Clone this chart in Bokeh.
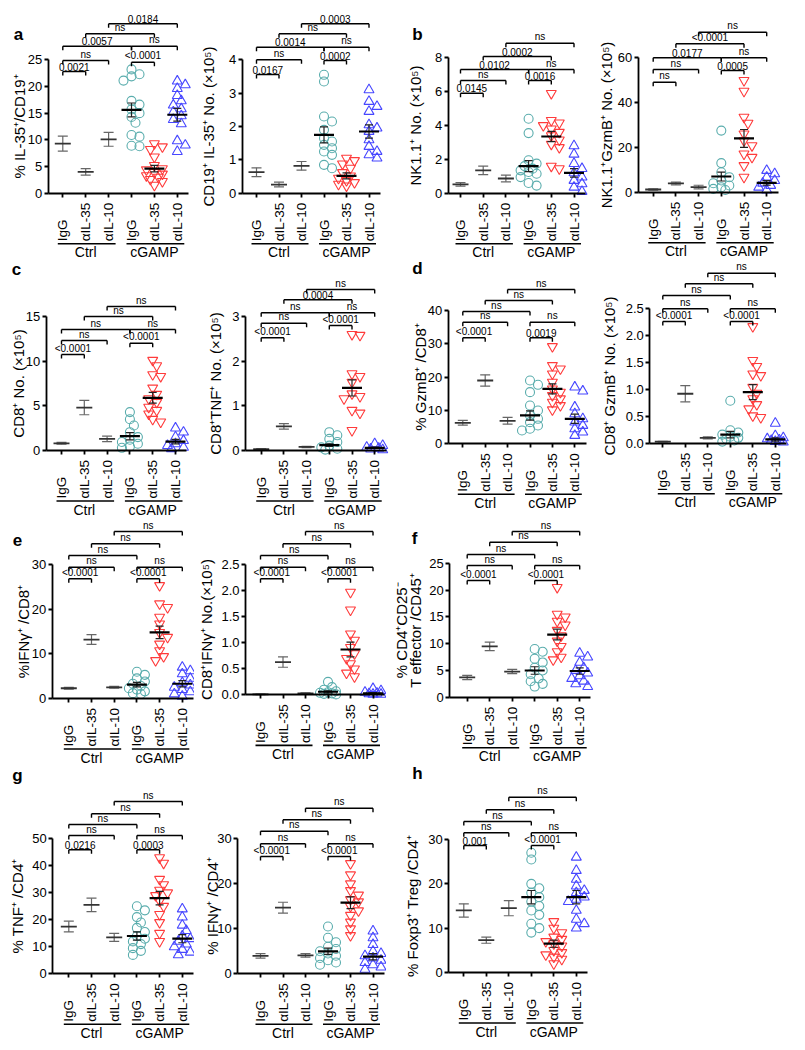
import math
from bokeh.plotting import figure
from bokeh.models import LinearAxis, FixedTicker, CustomJSTickFormatter
from bokeh.layouts import row, column
from bokeh.embed import file_html
from bokeh.resources import INLINE
from bokeh.core.properties import value

FONT = "Liberation Sans"
CATEGORIES = ["IgG", "αIL-35", "αIL-10", "IgG", "αIL-35", "αIL-10"]
GROUP_LABELS = ["Ctrl", "cGAMP"]
COMPARISONS = [(1, 2), (1, 3), (4, 5), (4, 6), (1, 4), (2, 5), (3, 6)]

# ---------------- data ----------------
a1_title = "% IL-35⁺/CD19⁺"
a1_ticks = [0, 5, 10, 15, 20, 25]
a1_labels = ["0", "5", "10", "15", "20", "25"]
a1_mean = [9.3, 4.0, 10.1, 15.6, 4.6, 14.7]
a1_sem = [1.4, 0.6, 1.3, 1.3, 0.6, 1.2]
a1_igg = [23.2, 22.3, 21.9, 21.1, 17.3, 16.6, 15.7, 15.0, 14.3, 13.2, 10.9, 10.6, 8.9, 8.8]
a1_il35 = [9.3, 8.7, 8.2, 6.8, 5.2, 4.6, 4.4, 3.9, 3.6, 3.3, 3.0, 2.6, 2.2, 1.5]
a1_il10 = [21.0, 20.3, 19.6, 18.3, 17.3, 16.5, 15.8, 15.2, 14.5, 13.8, 13.0, 9.8, 9.0, 7.8]
a1_p = ["0.0021", "ns", "<0.0001", "ns", "0.0057", "ns", "0.0184"]

a2_title = "CD19⁺ IL-35⁺ No. (×10⁵)"
a2_ticks = [0, 1, 2, 3, 4]
a2_labels = ["0", "1", "2", "3", "4"]
a2_mean = [0.63, 0.26, 0.82, 1.75, 0.52, 1.85]
a2_sem = [0.13, 0.07, 0.13, 0.24, 0.09, 0.2]
a2_igg = [3.55, 3.35, 2.3, 2.15, 1.9, 1.65, 1.55, 1.45, 1.35, 1.25, 1.15, 0.85, 0.75]
a2_il35 = [1.05, 0.98, 0.88, 0.75, 0.62, 0.52, 0.45, 0.38, 0.32, 0.27, 0.22]
a2_il10 = [3.1, 2.75, 2.6, 2.45, 2.05, 1.95, 1.85, 1.6, 1.4, 1.25, 1.15, 1.05]
a2_p = ["0.0167", "ns", "0.0002", "ns", "0.0014", "ns", "0.0003"]

b1_title = "NK1.1⁺ No. (×10⁵)"
b1_ticks = [0, 2, 4, 6, 8]
b1_labels = ["0", "2", "4", "6", "8"]
b1_mean = [0.52, 1.35, 0.87, 1.6, 3.35, 1.2]
b1_sem = [0.1, 0.25, 0.2, 0.33, 0.3, 0.25]
b1_igg = [4.4, 3.55, 1.95, 1.75, 1.6, 1.45, 1.35, 1.25, 1.15, 0.95, 0.6, 0.45]
b1_il35 = [5.9, 4.3, 4.15, 4.0, 3.8, 3.6, 3.4, 3.15, 2.9, 2.7, 1.6, 1.45]
b1_il10 = [2.8, 2.3, 1.75, 1.45, 1.2, 0.95, 0.75, 0.55, 0.35, 0.1]
b1_p = ["0.0145", "ns", "0.0016", "ns", "0.0102", "0.0002", "ns"]

b2_title = "NK1.1⁺GzmB⁺ No. (×10⁵)"
b2_ticks = [0, 20, 40, 60]
b2_labels = ["0", "20", "40", "60"]
b2_mean = [1.2, 3.9, 2.3, 7.0, 24.0, 4.2]
b2_sem = [0.3, 0.6, 0.8, 2.0, 4.0, 1.0]
b2_igg = [27.5, 13.0, 8.9, 6.7, 5.2, 4.0, 3.0, 2.2, 1.5, 1.0]
b2_il35 = [49.9, 45.1, 33.5, 30.8, 26.0, 23.0, 20.8, 17.1, 15.6, 11.9, 6.7]
b2_il10 = [9.7, 8.2, 6.7, 5.2, 4.0, 3.0, 2.2, 1.0]
b2_p = ["ns", "ns", "0.0005", "ns", "0.0177", "<0.0001", "ns"]

c1_title = "CD8⁺ No. (×10⁵)"
c1_ticks = [0, 5, 10, 15]
c1_labels = ["0", "5", "10", "15"]
c1_mean = [0.8, 4.8, 1.3, 1.6, 5.9, 1.0]
c1_sem = [0.1, 0.8, 0.3, 0.4, 0.6, 0.25]
c1_igg = [4.3, 3.5, 2.8, 2.05, 1.5, 1.2, 0.95, 0.75, 0.45, 0.3]
c1_il35 = [10.1, 9.5, 8.5, 8.3, 7.0, 6.3, 5.8, 5.4, 4.85, 4.5, 4.1, 3.5, 3.2]
c1_il10 = [2.5, 2.05, 1.5, 1.1, 0.75, 0.55, 0.35, 0.2]
c1_p = ["<0.0001", "ns", "<0.0001", "ns", "ns", "ns", "ns"]

c2_title = "CD8⁺TNF⁺ No. (×10⁵)"
c2_ticks = [0, 1, 2, 3]
c2_labels = ["0", "1", "2", "3"]
c2_mean = [0.03, 0.54, 0.08, 0.12, 1.4, 0.06]
c2_sem = [0.01, 0.06, 0.015, 0.03, 0.18, 0.015]
c2_igg = [0.41, 0.34, 0.26, 0.19, 0.11, 0.07, 0.04, 0.02]
c2_il35 = [2.6, 2.58, 1.72, 1.66, 1.53, 1.27, 1.21, 1.16, 0.9, 0.84, 0.45]
c2_il10 = [0.15, 0.11, 0.07, 0.05, 0.03, 0.015]
c2_p = ["<0.0001", "ns", "<0.0001", "ns", "ns", "0.0004", "ns"]

d1_title = "% GzmB⁺ /CD8⁺"
d1_ticks = [0, 10, 20, 30, 40]
d1_labels = ["0", "10", "20", "30", "40"]
d1_mean = [6.3, 19.0, 6.9, 8.5, 16.5, 7.5]
d1_sem = [0.7, 1.7, 1.0, 1.4, 1.5, 1.4]
d1_igg = [19.0, 17.7, 15.5, 11.5, 10.0, 8.5, 7.5, 6.5, 5.5, 4.5, 4.0]
d1_il35 = [29.2, 23.5, 22.5, 21.0, 18.5, 16.5, 15.5, 14.5, 13.5, 12.5, 11.5, 10.2]
d1_il10 = [17.0, 15.8, 11.0, 9.0, 7.5, 6.5, 5.5, 4.5, 3.5, 2.5]
d1_p = ["<0.0001", "ns", "0.0019", "ns", "ns", "ns", "ns"]

d2_title = "CD8⁺ GzmB⁺ No. (×10⁵)"
d2_ticks = [0, 0.5, 1.0, 1.5, 2.0, 2.5]
d2_labels = ["0.0", "0.5", "1.0", "1.5", "2.0", "2.5"]
d2_mean = [0.03, 0.92, 0.1, 0.16, 0.95, 0.07]
d2_sem = [0.005, 0.15, 0.02, 0.06, 0.14, 0.03]
d2_igg = [0.79, 0.24, 0.2, 0.16, 0.12, 0.1, 0.08, 0.05, 0.03]
d2_il35 = [2.17, 1.54, 1.43, 1.29, 1.26, 1.04, 0.93, 0.83, 0.72, 0.64, 0.51, 0.48]
d2_il10 = [0.37, 0.14, 0.1, 0.08, 0.06, 0.05, 0.03, 0.02]
d2_p = ["<0.0001", "ns", "<0.0001", "ns", "ns", "ns", "ns"]

e1_title = "%IFNγ⁺ /CD8⁺"
e1_ticks = [0, 10, 20, 30]
e1_labels = ["0", "10", "20", "30"]
e1_mean = [2.3, 13.2, 2.5, 3.1, 14.8, 3.3]
e1_sem = [0.2, 1.1, 0.2, 0.5, 1.4, 0.7]
e1_igg = [6.0, 5.3, 4.5, 3.8, 3.3, 2.8, 2.3, 2.0, 1.6, 1.2, 1.0]
e1_il35 = [25.3, 21.2, 20.4, 18.2, 16.7, 14.8, 13.7, 12.2, 10.7, 9.4, 8.5]
e1_il10 = [7.0, 6.2, 5.5, 4.5, 3.5, 3.0, 2.5, 2.0, 1.5, 1.0, 0.5]
e1_p = ["<0.0001", "ns", "<0.0001", "ns", "ns", "ns", "ns"]

e2_title = "CD8⁺IFNγ⁺ No.(×10⁵)"
e2_ticks = [0, 0.5, 1.0, 1.5, 2.0, 2.5]
e2_labels = ["0.0", "0.5", "1.0", "1.5", "2.0", "2.5"]
e2_mean = [0.01, 0.63, 0.03, 0.06, 0.87, 0.03]
e2_sem = [0.005, 0.1, 0.01, 0.02, 0.14, 0.01]
e2_igg = [0.25, 0.15, 0.1, 0.07, 0.05, 0.04, 0.03, 0.02, 0.01]
e2_il35 = [1.97, 1.63, 1.17, 1.05, 0.91, 0.79, 0.7, 0.6, 0.5, 0.42, 0.35]
e2_il10 = [0.12, 0.08, 0.05, 0.03, 0.02, 0.01, 0.01]
e2_p = ["<0.0001", "ns", "<0.0001", "ns", "ns", "ns", "ns"]

f1_title = "% CD4⁺CD25⁻\nT effector /CD45⁺"
f1_ticks = [0, 5, 10, 15, 20, 25]
f1_labels = ["0", "5", "10", "15", "20", "25"]
f1_mean = [3.7, 9.5, 4.8, 5.0, 11.7, 4.9]
f1_sem = [0.4, 0.8, 0.4, 0.7, 1.0, 0.6]
f1_igg = [9.0, 8.5, 7.2, 6.5, 5.5, 5.0, 4.3, 3.5, 3.0, 2.5, 2.0]
f1_il35 = [20.5, 15.5, 15.0, 14.2, 13.5, 12.5, 11.5, 10.5, 9.5, 8.5, 7.5, 7.0]
f1_il10 = [8.2, 7.5, 6.5, 5.5, 5.0, 4.5, 4.0, 3.5, 3.0, 2.5, 2.0]
f1_p = ["<0.0001", "ns", "<0.0001", "ns", "ns", "ns", "ns"]

g1_title = "% TNF⁺ /CD4⁺"
g1_ticks = [0, 10, 20, 30, 40, 50]
g1_labels = ["0", "10", "20", "30", "40", "50"]
g1_mean = [17.5, 25.5, 13.5, 14.0, 28.0, 13.0]
g1_sem = [2.0, 2.5, 1.5, 1.5, 2.5, 1.5]
g1_igg = [25.0, 23.5, 21.0, 19.0, 17.0, 15.5, 14.0, 13.0, 12.0, 11.0, 9.5, 8.5, 7.0]
g1_il35 = [43, 41, 35, 33, 31, 30, 29, 27, 25, 22, 19, 15, 12]
g1_il10 = [24, 21, 18, 16, 14, 13, 12, 11, 10, 9, 8, 7]
g1_p = ["0.0216", "ns", "0.0003", "ns", "ns", "ns", "ns"]

g2_title = "% IFNγ⁺ /CD4⁺"
g2_ticks = [0, 10, 20, 30]
g2_labels = ["0", "10", "20", "30"]
g2_mean = [4.0, 14.7, 4.1, 5.0, 15.8, 3.8]
g2_sem = [0.5, 1.2, 0.4, 0.7, 1.3, 0.7]
g2_igg = [10.5, 8.0, 7.0, 6.0, 5.5, 5.0, 4.5, 4.0, 3.5, 3.0, 2.5, 2.0]
g2_il35 = [24.5, 22, 20, 18.5, 17.5, 16.5, 16, 15, 14, 13, 11.5, 10, 8.5]
g2_il10 = [9.5, 8, 6.5, 5, 4.5, 4, 3.5, 3, 2.5, 2, 1.5, 1]
g2_p = ["<0.0001", "ns", "<0.0001", "ns", "ns", "ns", "ns"]

h1_title = "% Foxp3⁺ Treg /CD4⁺"
h1_ticks = [0, 10, 20, 30]
h1_labels = ["0", "10", "20", "30"]
h1_mean = [14.0, 7.3, 14.5, 17.0, 6.5, 17.0]
h1_sem = [1.5, 0.7, 1.7, 1.5, 0.8, 1.5]
h1_igg = [27, 25.5, 20, 19, 18, 17, 16, 15, 14, 13, 11, 10, 9]
h1_il35 = [11.5, 10, 9, 8, 7.5, 7, 6.5, 6, 5, 4.5, 4, 3.5, 3, 2]
h1_il10 = [26, 23, 21, 19.5, 18.5, 18, 17, 16.5, 16, 14, 12, 11, 10]
h1_p = ["0.001", "ns", "<0.0001", "ns", "ns", "ns", "ns"]


def pack(title, ticks, labels, mean, sem, igg, il35, il10, p):
    return dict(title=title, ticks=ticks, labels=labels, mean=mean, sem=sem,
                pts=[igg, il35, il10], p=p)


PANELS = {
    "a1": pack(a1_title, a1_ticks, a1_labels, a1_mean, a1_sem, a1_igg, a1_il35, a1_il10, a1_p),
    "a2": pack(a2_title, a2_ticks, a2_labels, a2_mean, a2_sem, a2_igg, a2_il35, a2_il10, a2_p),
    "b1": pack(b1_title, b1_ticks, b1_labels, b1_mean, b1_sem, b1_igg, b1_il35, b1_il10, b1_p),
    "b2": pack(b2_title, b2_ticks, b2_labels, b2_mean, b2_sem, b2_igg, b2_il35, b2_il10, b2_p),
    "c1": pack(c1_title, c1_ticks, c1_labels, c1_mean, c1_sem, c1_igg, c1_il35, c1_il10, c1_p),
    "c2": pack(c2_title, c2_ticks, c2_labels, c2_mean, c2_sem, c2_igg, c2_il35, c2_il10, c2_p),
    "d1": pack(d1_title, d1_ticks, d1_labels, d1_mean, d1_sem, d1_igg, d1_il35, d1_il10, d1_p),
    "d2": pack(d2_title, d2_ticks, d2_labels, d2_mean, d2_sem, d2_igg, d2_il35, d2_il10, d2_p),
    "e1": pack(e1_title, e1_ticks, e1_labels, e1_mean, e1_sem, e1_igg, e1_il35, e1_il10, e1_p),
    "e2": pack(e2_title, e2_ticks, e2_labels, e2_mean, e2_sem, e2_igg, e2_il35, e2_il10, e2_p),
    "f1": pack(f1_title, f1_ticks, f1_labels, f1_mean, f1_sem, f1_igg, f1_il35, f1_il10, f1_p),
    "g1": pack(g1_title, g1_ticks, g1_labels, g1_mean, g1_sem, g1_igg, g1_il35, g1_il10, g1_p),
    "g2": pack(g2_title, g2_ticks, g2_labels, g2_mean, g2_sem, g2_igg, g2_il35, g2_il10, g2_p),
    "h1": pack(h1_title, h1_ticks, h1_labels, h1_mean, h1_sem, h1_igg, h1_il35, h1_il10, h1_p),
}

# ---------------- layout geometry (page pixels) ----------------
GEO = {
    "a1": dict(ax=47.7, c1=62.3, step=22.9, y0=192.7, ytop=59.3, ts=-3, letter=("a", 18, 34),
               br=[71, 60, 61.7, 45.7, 45.7, 33.3, 23.3]),
    "a2": dict(ax=241.7, c1=256, step=22.5, y0=192.7, ytop=59.3, ts=9, letter=None,
               br=[74, 59.3, 60, 46.7, 46.7, 33.3, 23.3]),
    "b1": dict(ax=447.7, c1=460, step=22.7, y0=192.7, ytop=57.3, ts=8, letter=("b", 417, 34),
               br=[92.7, 80, 80, 69, 69, 56, 42.7]),
    "b2": dict(ax=637.7, c1=652.7, step=22.7, y0=191.7, ytop=57.3, ts=0, letter=None,
               br=[81.7, 69, 70, 57.3, 57.3, 43.3, 31.7]),
    "c1": dict(ax=45.7, c1=61, step=22.8, y0=450, ytop=316, ts=-4, letter=("c", 16, 269),
               br=[354, 340, 342.7, 329, 329, 316, 306]),
    "c2": dict(ax=245, c1=260.7, step=22.7, y0=450, ytop=316, ts=5, letter=None,
               br=[337.3, 322.7, 325, 312.3, 312.3, 299.3, 289]),
    "d1": dict(ax=447.7, c1=462.3, step=22.4, y0=443.3, ytop=310, ts=-4, letter=("d", 417, 268),
               br=[337.3, 321.7, 337.3, 321.7, 311, 300, 289]),
    "d2": dict(ax=649.3, c1=662.3, step=22.5, y0=442.7, ytop=308.3, ts=4, letter=None,
               br=[321, 308.3, 321, 308.3, 295, 283.3, 272.7]),
    "e1": dict(ax=51.7, c1=68.3, step=22.7, y0=698, ytop=564, ts=-3, letter=("e", 17, 539),
               br=[578.3, 566.7, 578.3, 566.7, 555, 543.3, 531]),
    "e2": dict(ax=245, c1=260, step=22.5, y0=694.4, ytop=564, ts=3, letter=None,
               br=[578.3, 566.7, 578.3, 566.7, 555, 543.3, 531]),
    "f1": dict(ax=449.3, c1=466.7, step=22.5, y0=696.8, ytop=562.7, ts=0, letter=("f", 414, 538),
               br=[580, 565, 580, 565, 554, 541.7, 531], tl=[401, 415]),
    "g1": dict(ax=52.3, c1=68.3, step=22.7, y0=973.3, ytop=838.3, ts=3, letter=("g", 17, 775),
               br=[849.3, 835, 849.3, 835, 824, 813.3, 801]),
    "g2": dict(ax=237.3, c1=260, step=22.5, y0=973.3, ytop=838.3, ts=-7, letter=None,
               br=[856, 843.3, 856, 843.3, 830.7, 819.3, 807.7]),
    "h1": dict(ax=448.3, c1=463.3, step=22.5, y0=972, ytop=839, ts=4, letter=("h", 417, 773),
               br=[845, 832.3, 845, 832.3, 821, 809.3, 796.7]),
}

ROWS = [(0, 260), (260, 258), (518, 246), (764, 282)]
COLS4 = [(0, 194), (194, 206), (400, 194), (594, 206)]
COLS3 = [(0, 194), (194, 192), (386, 414)]

TEAL, RED, BLUE = "#5aadad", "#ff3b3b", "#4747ff"
MARKERS = [("circle", TEAL, 9), ("inverted_triangle", RED, 10), ("triangle", BLUE, 10)]


def swarm(vals, k, min_d=6.5, dx=4.0, maxm=2):
    cands = [0]
    for m in range(1, maxm + 1):
        cands += [m, -m]
    placed, out = [], []
    for v in vals:
        ypx = v / k
        best, bestd = 0.0, -1.0
        for m in cands:
            xpx = m * dx
            dmin = min([math.hypot(xpx - a, ypx - b) for a, b in placed], default=1e9)
            if dmin >= min_d:
                best = xpx
                break
            if dmin > bestd:
                best, bestd = xpx, dmin
        placed.append((best, ypx))
        out.append(best)
    return out


def build(key, rect):
    d, g = PANELS[key], GEO[key]
    L, T, W, H = rect
    c1, step, y0, ytp = g["c1"], g["step"], g["y0"], g["ytop"]
    ticks = d["ticks"]
    k = ticks[-1] / (y0 - ytp)
    ux = 1.0 / step

    def xd(px):
        return 1 + (px - c1) / step

    def yd(py):
        return (y0 - py) * k

    p = figure(width=W, height=H, x_range=(xd(L), xd(L + W)), y_range=(yd(T + H), yd(T)),
               x_axis_type=None, y_axis_type=None, toolbar_location=None,
               output_backend="svg", min_border=0, title=None, outline_line_color=None)
    p.background_fill_color = "white"
    p.border_fill_color = "white"

    lines = d["title"].split("\n")
    multi = len(lines) > 1
    yax = LinearAxis(fixed_location=xd(g["ax"]), bounds=(0, ticks[-1]),
                     ticker=FixedTicker(ticks=ticks, minor_ticks=[]),
                     formatter=CustomJSTickFormatter(
                         args=dict(vals=ticks, labels=d["labels"]),
                         code="let b=0; for (let i=0;i<vals.length;i++){ if (Math.abs(vals[i]-tick)<1e-9) b=i; } return labels[b];"),
                     axis_label=None if multi else d["title"], axis_label_text_font=FONT,
                     axis_label_text_font_size="15px", axis_label_text_font_style="normal",
                     axis_label_standoff=g["ts"], axis_label_text_color="black",
                     major_label_text_font=FONT, major_label_text_font_size="13px",
                     major_label_standoff=2, major_label_text_color="black",
                     axis_line_width=1.8, major_tick_line_width=1.8,
                     major_tick_in=0, major_tick_out=4, minor_tick_line_color=None)
    p.add_layout(yax, "left")
    if multi:
        p.text(x=[xd(v) for v in g["tl"]], y=[ticks[-1] / 2] * len(lines), text=lines,
               angle=math.pi / 2, text_align="center", text_baseline="middle",
               text_font=value(FONT), text_font_size="15px", text_color="black")

    xax = LinearAxis(fixed_location=0, bounds=(xd(g["ax"]), 6.5),
                     ticker=FixedTicker(ticks=[1, 2, 3, 4, 5, 6], minor_ticks=[]),
                     formatter=CustomJSTickFormatter(code="return '';"),
                     axis_line_width=1.8, major_tick_line_width=1.8,
                     major_tick_in=0, major_tick_out=4, minor_tick_line_color=None,
                     major_label_text_font_size="1px")
    p.add_layout(xax, "below")

    # individual points (cGAMP groups)
    for gi, pts in enumerate(d["pts"]):
        marker, color, size = MARKERS[gi]
        offs = swarm(pts, k)
        p.scatter(x=[4 + gi + o * ux for o in offs], y=pts, marker=marker, size=size,
                  fill_color=None, line_color=color, line_width=1.1)

    # mean +/- SEM
    for i in range(6):
        x = i + 1
        m, s = d["mean"][i], d["sem"][i]
        ctrl = i < 3
        hw = 8 if ctrl else 10
        cap = 5 if ctrl else 4
        ecol = "#666666" if ctrl else "#222222"
        mcol = "#333333" if ctrl else "#000000"
        p.segment(x0=[x, x - cap * ux, x - cap * ux], y0=[m - s, m - s, m + s],
                  x1=[x, x + cap * ux, x + cap * ux], y1=[m + s, m - s, m + s],
                  line_color=ecol, line_width=1.2)
        p.segment(x0=[x - hw * ux], y0=[m], x1=[x + hw * ux], y1=[m],
                  line_color=mcol, line_width=1.8 if ctrl else 2.2)

    # significance brackets
    bx0, by0, bx1, by1, tx, ty, tt = [], [], [], [], [], [], []
    for (i, j), lab, ypx in zip(COMPARISONS, d["p"], g["br"]):
        yb = yd(ypx)
        yt = yd(ypx + 4)
        bx0 += [i, i, j]
        by0 += [yb, yb, yb]
        bx1 += [j, i, j]
        by1 += [yb, yt, yt]
        tx.append((i + j) / 2)
        ty.append(yd(ypx - 1))
        tt.append(lab)
    p.segment(x0=bx0, y0=by0, x1=bx1, y1=by1, line_color="black", line_width=1.4)
    p.text(x=tx, y=ty, text=tt, text_align="center", text_baseline="bottom",
           text_font=value(FONT), text_font_size="10px", text_color="black")

    # category labels (rotated)
    p.text(x=[1, 2, 3, 4, 5, 6], y=[yd(y0 + 48)] * 6, text=CATEGORIES, angle=math.pi / 2,
           text_align="left", text_baseline="middle", text_font=value(FONT),
           text_font_size="13.5px", text_color="black")
    # group lines & labels
    gy = yd(y0 + 50.5)
    p.segment(x0=[1 - 5 * ux, 4 - 5 * ux], y0=[gy, gy], x1=[3 + 7 * ux, 6 + 7 * ux], y1=[gy, gy],
              line_color="black", line_width=1.6)
    p.text(x=[2, 5], y=[yd(y0 + 59)] * 2, text=GROUP_LABELS, text_align="center",
           text_baseline="middle", text_font=value(FONT), text_font_size="14px",
           text_color="black")

    if g["letter"]:
        ch, lx, ly = g["letter"]
        p.text(x=[xd(lx)], y=[yd(ly)], text=[ch], text_align="center", text_baseline="middle",
               text_font=value(FONT), text_font_size="17px", text_font_style="bold",
               text_color="black")
    return p


def rect(r, c):
    return (c[0], r[0], c[1], r[1])


row1 = row(*[build(k, rect(ROWS[0], c)) for k, c in zip(["a1", "a2", "b1", "b2"], COLS4)])
row2 = row(*[build(k, rect(ROWS[1], c)) for k, c in zip(["c1", "c2", "d1", "d2"], COLS4)])
row3 = row(*[build(k, rect(ROWS[2], c)) for k, c in zip(["e1", "e2", "f1"], COLS3)])
row4 = row(*[build(k, rect(ROWS[3], c)) for k, c in zip(["g1", "g2", "h1"], COLS3)])
layout = column(row1, row2, row3, row4)

open("out.html", "w").write(file_html(layout, INLINE))
